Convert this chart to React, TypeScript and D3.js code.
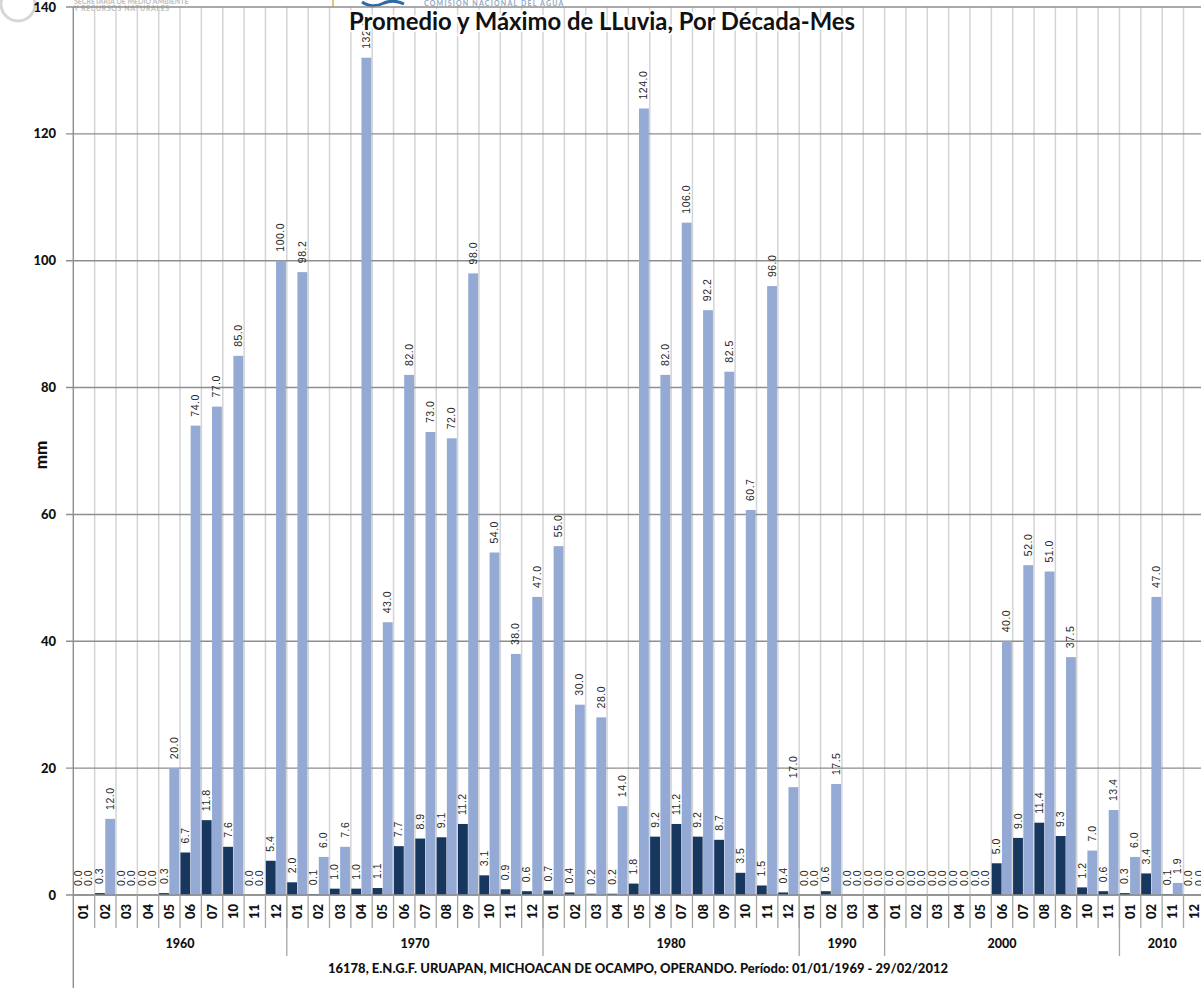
import * as d3 from 'd3';

// months present in each decade (x axis, two levels)
const DECADES = ['1960', '1970', '1980', '1990', '2000', '2010'];
const MONTHS_1960 = ['01', '02', '03', '04', '05', '06', '07', '10', '11', '12'];
const MONTHS_1970 = ['01', '02', '03', '04', '05', '06', '07', '08', '09', '10', '11', '12'];
const MONTHS_1980 = ['01', '02', '03', '04', '05', '06', '07', '08', '09', '10', '11', '12'];
const MONTHS_1990 = ['01', '02', '03', '04'];
const MONTHS_2000 = ['01', '02', '03', '04', '05', '06', '07', '08', '09', '10', '11'];
const MONTHS_2010 = ['01', '02', '11', '12'];
const MONTHS = [MONTHS_1960, MONTHS_1970, MONTHS_1980, MONTHS_1990, MONTHS_2000, MONTHS_2010];

// promedio (dark) and máximo (light), mm
const PROMEDIO = [
  0.0, 0.3, 0.0, 0.0, 0.3, 6.7, 11.8, 7.6, 0.0, 5.4,
  2.0, 0.1, 1.0, 1.0, 1.1, 7.7, 8.9, 9.1, 11.2, 3.1, 0.9, 0.6,
  0.7, 0.4, 0.2, 0.2, 1.8, 9.2, 11.2, 9.2, 8.7, 3.5, 1.5, 0.4,
  0.0, 0.6, 0.0, 0.0,
  0.0, 0.0, 0.0, 0.0, 0.0, 5.0, 9.0, 11.4, 9.3, 1.2, 0.6,
  0.3, 3.4, 0.1, 0.0,
];
const MAXIMO = [
  0.0, 12.0, 0.0, 0.0, 20.0, 74.0, 77.0, 85.0, 0.0, 100.0,
  98.2, 6.0, 7.6, 132.0, 43.0, 82.0, 73.0, 72.0, 98.0, 54.0, 38.0, 47.0,
  55.0, 30.0, 28.0, 14.0, 124.0, 82.0, 106.0, 92.2, 82.5, 60.7, 96.0, 17.0,
  0.0, 17.5, 0.0, 0.0,
  0.0, 0.0, 0.0, 0.0, 0.0, 40.0, 52.0, 51.0, 37.5, 7.0, 13.4,
  6.0, 47.0, 1.9, 0.0,
];
const Y_TICKS = [0, 20, 40, 60, 80, 100, 120, 140];

const TITLE = 'Promedio y Máximo de LLuvia, Por Década-Mes';
const FOOTER = '16178, E.N.G.F. URUAPAN, MICHOACAN DE OCAMPO, OPERANDO. Período: 01/01/1969 - 29/02/2012';

const W = 1201;
const H = 988;
const FONT = 'Lato, "Open Sans", sans-serif';
const DARK = '#17375e';
const LIGHT = '#94aad5';

export default function App() {
  const cats = DECADES.flatMap((dec, i) => MONTHS[i].map(m => ({ id: `${dec}-${m}`, dec, m })));
  const left = 73.3;
  const step = 21.35;

  const x = d3.scaleBand<string>()
    .domain(cats.map(c => c.id))
    .range([left, left + cats.length * step])
    .padding(0);
  const bw = x.bandwidth();
  const inner = d3.scaleBand<string>().domain(['prom', 'max']).range([0.4, bw - 0.9]).paddingInner(0.04);
  const y = d3.scaleLinear().domain([0, 140]).range([895, 7]);
  const y0 = y(0);

  // decade spans for the second axis level
  let offset = 0;
  const groups = DECADES.map((dec, i) => {
    const start = left + offset * step;
    offset += MONTHS[i].length;
    return { dec, start, end: left + offset * step };
  });

  const boundaries = cats.slice(1).map(c => x(c.id)!).concat([left + cats.length * step]);

  const label = (v: number, cx: number, key: string) => (
    <text
      key={key}
      transform={`translate(${cx + 3.5},${y(v) - 9}) rotate(-90)`}
      fontSize={10.5}
      letterSpacing={0.5}
      fill="#262626"
      fontFamily='"Liberation Sans", Arial, sans-serif'
    >
      {v.toFixed(1)}
    </text>
  );

  return (
    <svg width={W} height={H} style={{ position: 'absolute', left: 0, top: 0, background: '#fff' }}>
      {/* logos (header strip) */}
      <g>
        <circle cx={18} cy={4} r={17} fill="none" stroke="#d6d6d6" strokeWidth={3} />
        <text x={74} y={4} fontSize={7} fill="#bdbdbd" fontFamily={FONT} fontWeight="bold">SECRETARIA DE MEDIO AMBIENTE</text>
        <text x={74} y={11} fontSize={7} fill="#bdbdbd" fontFamily={FONT} fontWeight="bold" letterSpacing={0.6}>Y RECURSOS NATURALES</text>
        <line x1={333} x2={333} y1={0} y2={7} stroke="#d8b640" strokeWidth={1.5} />
        <path d="M362,2 Q372,9 384,3 Q394,-1 404,4" fill="none" stroke="#2f6aa8" strokeWidth={3} />
        <text x={424} y={6} fontSize={7} fill="#8fa9c4" fontFamily={FONT} fontWeight="bold" letterSpacing={1.2}>COMISION NACIONAL DEL AGUA</text>
      </g>

      {/* vertical grid at category boundaries */}
      {boundaries.map((bx, i) => (
        <line key={`vg${i}`} x1={bx} x2={bx} y1={y(140)} y2={y0} stroke="#d4d4d4" strokeWidth={1.5} />
      ))}

      {/* horizontal grid + ticks */}
      {Y_TICKS.map(t => (
        <g key={`yt${t}`}>
          <line x1={66} x2={W} y1={y(t)} y2={y(t)} stroke="#8e8e8e" strokeWidth={1.4} />
          <text x={56} y={y(t) + 4.5} textAnchor="end" fontSize={13} fontWeight="900" fontFamily={FONT} fill="#111">
            {t}
          </text>
        </g>
      ))}

      {/* bars */}
      {cats.map((c, i) => {
        const bx = x(c.id)!;
        const iw = inner.bandwidth();
        return (
          <g key={`b${c.id}`}>
            <rect x={bx + inner('prom')!} y={y(PROMEDIO[i])} width={iw} height={y0 - y(PROMEDIO[i])} fill={DARK} />
            <rect x={bx + inner('max')!} y={y(MAXIMO[i])} width={iw} height={y0 - y(MAXIMO[i])} fill={LIGHT} />
          </g>
        );
      })}

      {/* value labels */}
      {cats.map((c, i) => {
        const bx = x(c.id)!;
        const iw = inner.bandwidth();
        return (
          <g key={`l${c.id}`}>
            {label(PROMEDIO[i], bx + inner('prom')! + iw / 2, 'p')}
            {label(MAXIMO[i], bx + inner('max')! + iw / 2, 'm')}
          </g>
        );
      })}

      {/* axes */}
      <line x1={left} x2={left} y1={y(140)} y2={H} stroke="#8e8e8e" strokeWidth={1.4} />
      <line x1={left} x2={W} y1={y0} y2={y0} stroke="#8e8e8e" strokeWidth={1.6} />

      {/* month level */}
      {boundaries.map((bx, i) => (
        <line key={`ms${i}`} x1={bx} x2={bx} y1={y0} y2={928} stroke="#a6a6a6" strokeWidth={1.3} />
      ))}
      {cats.map(c => (
        <text
          key={`mt${c.id}`}
          transform={`translate(${x(c.id)! + bw / 2 + 4.5},904) rotate(-90)`}
          textAnchor="end"
          fontSize={13}
          fontWeight="900"
          fontFamily={FONT}
          fill="#111"
        >
          {c.m}
        </text>
      ))}

      {/* decade level */}
      {groups.map(g => (
        <g key={`g${g.dec}`}>
          <line x1={g.end} x2={g.end} y1={y0} y2={956} stroke="#a6a6a6" strokeWidth={1.3} />
          <text x={(g.start + g.end) / 2} y={948} textAnchor="middle" fontSize={12.5} fontWeight="900" fontFamily={FONT} fill="#111">
            {g.dec}
          </text>
        </g>
      ))}

      <text x={638} y={973} textAnchor="middle" fontSize={12.5} fontWeight="900" fontFamily={FONT} fill="#111" textLength={620} lengthAdjust="spacingAndGlyphs">
        {FOOTER}
      </text>

      <text transform="translate(47,455) rotate(-90)" textAnchor="middle" fontSize={17} fontWeight="900" fontFamily={FONT} fill="#111">
        mm
      </text>

      <text
        x={602}
        y={30}
        textAnchor="middle"
        fontSize={24}
        fontWeight="bold"
        fontFamily={FONT}
        fill="#111"
        stroke="#fff"
        strokeWidth={4}
        paintOrder="stroke"
        textLength={506}
        lengthAdjust="spacingAndGlyphs"
      >
        {TITLE}
      </text>
    </svg>
  );
}
